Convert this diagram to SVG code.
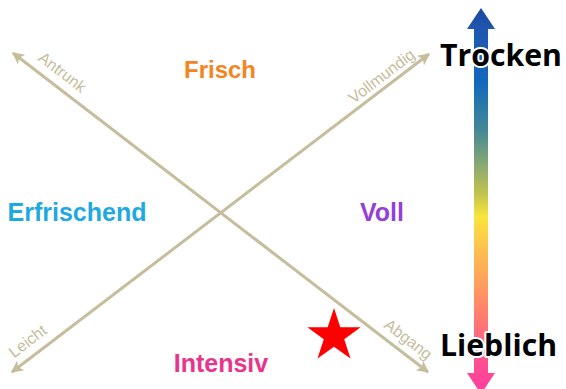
<svg xmlns="http://www.w3.org/2000/svg" width="566" height="389" viewBox="0 0 566 389">
  <defs>
    <linearGradient id="grad" gradientUnits="userSpaceOnUse" x1="0" y1="8" x2="0" y2="394">
      <stop offset="0" stop-color="#1c47a0"/>
      <stop offset="0.06" stop-color="#1f58b0"/>
      <stop offset="0.19" stop-color="#1268be"/>
      <stop offset="0.32" stop-color="#458a95"/>
      <stop offset="0.41" stop-color="#8aaa70"/>
      <stop offset="0.48" stop-color="#c2c24e"/>
      <stop offset="0.54" stop-color="#f8e63c"/>
      <stop offset="0.62" stop-color="#ffc24e"/>
      <stop offset="0.69" stop-color="#ffa858"/>
      <stop offset="0.79" stop-color="#ff806c"/>
      <stop offset="0.92" stop-color="#ff4e92"/>
      <stop offset="1" stop-color="#ff3aa0"/>
    </linearGradient>
    <marker id="ah" viewBox="0 0 10 10" refX="9" refY="5" markerWidth="4" markerHeight="4" orient="auto-start-reverse" markerUnits="strokeWidth">
      <path d="M0,0 L10,5 L0,10 L2.5,5 Z" fill="#c6bd9c"/>
    </marker>
  </defs>
  <style>
    .axis { stroke: #c6bd9c; stroke-width: 3; fill: none; }
    .axl { font-family: "Liberation Sans", Arial, sans-serif; font-size: 16px; fill: #c6bd9c; text-anchor: middle; }
    .lbl { font-family: "Liberation Sans", Arial, sans-serif; font-weight: bold; text-anchor: middle; stroke: #ffffff; stroke-width: 3; paint-order: stroke; }
    .big { font-family: "Open Sans", "Liberation Sans", sans-serif; font-weight: bold; fill: #000000; stroke: #ffffff; stroke-width: 4; paint-order: stroke; stroke-linejoin: round; }
  </style>

  <g id="scale-arrow">
    <rect x="474" y="28" width="14" height="346" fill="url(#grad)"/>
    <polygon points="481,8 495,29 467,29" fill="url(#grad)"/>
    <polygon points="467,373 495,373 481,394" fill="url(#grad)"/>
  </g>

  <g id="connectors">
    <line class="axis" x1="13" y1="53" x2="428" y2="372" marker-start="url(#ah)" marker-end="url(#ah)"/>
    <line class="axis" x1="12" y1="372" x2="429" y2="54" marker-start="url(#ah)" marker-end="url(#ah)"/>
  </g>

  <g id="axis-labels">
    <text class="axl" transform="translate(59,76.5) rotate(37.5)">Antrunk</text>
    <text class="axl" transform="translate(385,80.5) rotate(-37.3)">Vollmundig</text>
    <text class="axl" transform="translate(31,345.5) rotate(-37.3)">Leicht</text>
    <text class="axl" transform="translate(405,343.5) rotate(37.5)">Abgang</text>
  </g>

  <g id="frisch"><text class="lbl" x="220" y="78" font-size="24" fill="#f5841f">Frisch</text></g>
  <g id="erfrischend"><text class="lbl" x="77" y="221" font-size="25" fill="#1fa9e1">Erfrischend</text></g>
  <g id="voll"><text class="lbl" x="382" y="221" font-size="25" fill="#9440d6">Voll</text></g>
  <g id="intensiv"><text class="lbl" x="221" y="372" font-size="25" fill="#e8358b">Intensiv</text></g>

  <g id="trocken"><text class="big" x="440" y="66" font-size="31" textLength="122" lengthAdjust="spacingAndGlyphs">Trocken</text></g>
  <g id="lieblich"><text class="big" x="440" y="356" font-size="31" textLength="117" lengthAdjust="spacingAndGlyphs">Lieblich</text></g>

  <g id="star">
    <polygon fill="#ff0000" points="334,308 340.3,327.3 360.6,327.3 344.2,339.3 350.5,358.6 334,346.7 317.5,358.6 323.8,339.3 307.4,327.3 327.7,327.3"/>
  </g>
</svg>
